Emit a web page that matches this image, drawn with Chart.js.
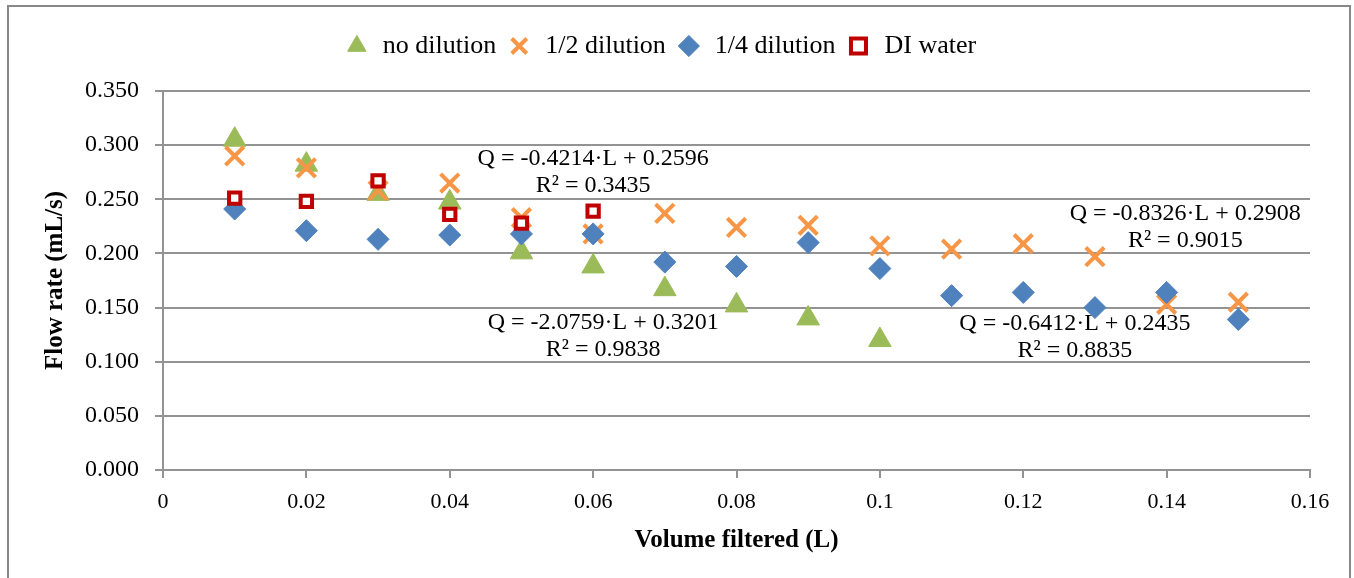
<!DOCTYPE html>
<html>
<head>
<meta charset="utf-8">
<script src="https://cdn.jsdelivr.net/npm/chart.js@4.4.1/dist/chart.umd.min.js"></script>
<style>
  html, body { margin: 0; padding: 0; background: #fff; }
  #wrap { width: 1354px; height: 578px; position: relative; }
</style>
</head>
<body>
<div id="wrap"><canvas id="flow-chart"></canvas></div>
<script>
// Dati
const volumeNoDil = [0.01, 0.02, 0.03, 0.04, 0.05, 0.06, 0.07, 0.08, 0.09, 0.10];
const flowNoDil = [0.305, 0.282, 0.255, 0.247, 0.201, 0.188, 0.167, 0.152, 0.140, 0.120];

const volumeHalf = [0.01, 0.02, 0.03, 0.04, 0.05, 0.06, 0.07, 0.08, 0.09, 0.10, 0.11, 0.12, 0.13, 0.14, 0.15];
const flowHalf = [0.290, 0.279, 0.258, 0.265, 0.233, 0.218, 0.237, 0.224, 0.226, 0.207, 0.204, 0.209, 0.197, 0.153, 0.155];

const volumeQuarter = [0.01, 0.02, 0.03, 0.04, 0.05, 0.06, 0.07, 0.08, 0.09, 0.10, 0.11, 0.12, 0.13, 0.14, 0.15];
const flowQuarter = [0.241, 0.221, 0.213, 0.217, 0.218, 0.218, 0.192, 0.188, 0.210, 0.186, 0.161, 0.164, 0.150, 0.164, 0.139];

const volumeDI = [0.01, 0.02, 0.03, 0.04, 0.05, 0.06];
const flowDI = [0.251, 0.248, 0.267, 0.236, 0.228, 0.239];

const seriesNames = ['no dilution', '1/2 dilution', '1/4 dilution', 'DI water'];

// Equazioni delle linee di tendenza (testo + punto di ancoraggio in unità dati)
const trendTexts = [
    ['Q = -0.4214\u00B7L + 0.2596', 'R\u00B2 = 0.3435'],
    ['Q = -2.0759\u00B7L + 0.3201', 'R\u00B2 = 0.9838'],
    ['Q = -0.8326\u00B7L + 0.2908', 'R\u00B2 = 0.9015'],
    ['Q = -0.6412\u00B7L + 0.2435', 'R\u00B2 = 0.8835']
];
const trendAnchorX = [0.0600, 0.0614, 0.1426, 0.1272];
const trendAnchorY = [0.2874, 0.1363, 0.2367, 0.1354];

const FONT = "'Liberation Serif', 'Times New Roman', serif";
const GRID = '#939393';

function toPoints(xs, ys) {
    return xs.map((x, i) => ({ x: x, y: ys[i] }));
}

// Cornice esterna del grafico
const framePlugin = {
    id: 'frame',
    beforeLayout(chart) {
        // spazio extra sotto la legenda
        const lg = chart.legend;
        if (lg && !lg._extraGap) {
            const origFit = lg.fit.bind(lg);
            lg.fit = function () {
                origFit();
                this.height += 22;
            };
            lg._extraGap = true;
        }
    },
    beforeDraw(chart) {
        const ctx = chart.ctx;
        ctx.save();
        ctx.fillStyle = '#fff';
        ctx.fillRect(0, 0, chart.width, chart.height);
        ctx.strokeStyle = '#888';
        ctx.lineWidth = 2;
        ctx.strokeRect(8, 6, chart.width - 4 - 8, chart.height + 10);
        ctx.restore();
    }
};

// Testo delle equazioni
const trendLabelPlugin = {
    id: 'trendLabels',
    afterDatasetsDraw(chart) {
        const ctx = chart.ctx;
        const xs = chart.scales.x;
        const ys = chart.scales.y;
        ctx.save();
        ctx.font = '24px ' + FONT;
        ctx.fillStyle = '#000';
        ctx.textAlign = 'center';
        ctx.textBaseline = 'middle';
        trendTexts.forEach((lines, i) => {
            const px = xs.getPixelForValue(trendAnchorX[i]);
            const py = ys.getPixelForValue(trendAnchorY[i]);
            lines.forEach((line, j) => ctx.fillText(line, px, py + j * 27));
        });
        ctx.restore();
    }
};

new Chart(document.getElementById('flow-chart'), {
    type: 'scatter',
    data: {
        datasets: [
            {
                label: seriesNames[0],
                data: toPoints(volumeNoDil, flowNoDil),
                pointStyle: 'triangle',
                pointRadius: 13,
                pointHoverRadius: 13,
                backgroundColor: '#9BBB59',
                borderColor: '#9BBB59',
                borderWidth: 1,
                order: 4
            },
            {
                label: seriesNames[1],
                data: toPoints(volumeHalf, flowHalf),
                pointStyle: 'crossRot',
                pointRadius: 13,
                pointHoverRadius: 13,
                backgroundColor: '#F79646',
                borderColor: '#F79646',
                borderWidth: 4,
                order: 3
            },
            {
                label: seriesNames[2],
                data: toPoints(volumeQuarter, flowQuarter),
                pointStyle: 'rectRot',
                pointRadius: 11,
                pointHoverRadius: 11,
                backgroundColor: '#4F81BD',
                borderColor: '#4F81BD',
                borderWidth: 1,
                order: 2
            },
            {
                label: seriesNames[3],
                data: toPoints(volumeDI, flowDI),
                pointStyle: 'rect',
                pointRadius: 8,
                pointHoverRadius: 8,
                backgroundColor: '#FFFFFF',
                borderColor: '#C00000',
                borderWidth: 4,
                order: 1
            }
        ]
    },
    options: {
        responsive: true,
        maintainAspectRatio: false,
        animation: false,
        layout: { padding: { left: 10, right: 44, top: 23, bottom: 0 } },
        plugins: {
            legend: {
                position: 'top',
                labels: {
                    usePointStyle: true,
                    boxHeight: 15,
                    padding: 10,
                    color: '#000',
                    font: { family: FONT, size: 26 },
                    sort: (a, b) => a.datasetIndex - b.datasetIndex
                }
            },
            tooltip: { enabled: false }
        },
        scales: {
            x: {
                type: 'linear',
                min: 0,
                max: 0.16,
                afterFit: (scale) => { scale.height = 108; },
                ticks: {
                    stepSize: 0.02,
                    padding: 11,
                    color: '#000',
                    font: { family: FONT, size: 22 },
                    callback: (v) => String(+v.toFixed(2))
                },
                grid: { drawOnChartArea: false, drawTicks: true, tickLength: 8, color: GRID, lineWidth: 2 },
                border: { display: true, color: GRID, width: 2 },
                title: {
                    display: true,
                    text: 'Volume filtered (L)',
                    color: '#000',
                    font: { family: FONT, size: 25, weight: 'bold' },
                    padding: { top: 0, bottom: 22 }
                }
            },
            y: {
                min: 0,
                max: 0.35,
                afterFit: (scale) => { scale.width = 153; },
                ticks: {
                    stepSize: 0.05,
                    padding: 16,
                    color: '#000',
                    font: { family: FONT, size: 24 },
                    callback: (v) => v.toFixed(3)
                },
                grid: { color: GRID, lineWidth: 2, tickLength: 8 },
                border: { display: true, color: GRID, width: 2 },
                title: {
                    display: true,
                    text: 'Flow rate (mL/s)',
                    color: '#000',
                    font: { family: FONT, size: 25, weight: 'bold' },
                    padding: { top: 31, bottom: 0 }
                }
            }
        }
    },
    plugins: [framePlugin, trendLabelPlugin]
});
</script>
</body>
</html>
